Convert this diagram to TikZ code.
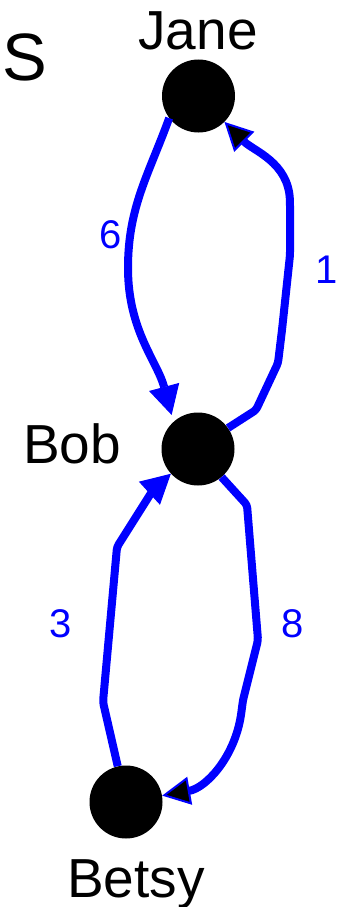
\documentclass[tikz,border=0pt]{standalone}
\usepackage{fontspec}
\setmainfont{Liberation Sans}
\usetikzlibrary{arrows.meta}
\begin{document}
\begin{tikzpicture}[x=1pt,y=1pt,
  vert/.style={circle,fill=black,minimum size=73pt,inner sep=0pt},
  vname/.style={font=\fontsize{55}{60}\selectfont,anchor=base,inner sep=0pt},
  wt/.style={font=\fontsize{40}{44}\selectfont,text=blue,anchor=base,inner sep=0pt},
  edge/.style={draw=blue,line width=8pt,line join=round},
  bluetip/.style={-{Triangle[length=29pt,width=31pt,line width=1pt]}},
  blacktip/.style={-{Triangle[length=28pt,width=28pt,line width=2pt,fill=black]}},
]
\useasboundingbox (0,0) rectangle (341,-907);
% vertices
\node[vert] (J) at (198.5,-96) {};
\node[vert] (B) at (198,-449) {};
\node[vert] (Y) at (126,-802) {};
% names
\node[vname] (jl) at (198,-50) {Jane};
\node[vname] (bl) at (72,-463) {Bob};
\node[vname] (yl) at (136,-897) {Betsy};
\node[font=\fontsize{67}{70}\selectfont,anchor=base,inner sep=0pt] (s) at (25,-81) {S};
% weights
\node[wt] (w6) at (111,-248) {6};
\node[wt] (w1) at (327,-283) {1};
\node[wt] (w3) at (61,-637) {3};
\node[wt] (w8) at (292.5,-637) {8};
% edges
\draw[edge,bluetip,shorten >=7pt] (J.217) to[out=250,in=90] (128,-268) to[out=270,in=105] (B.132);
\draw[edge,blacktip,rounded corners=3pt] (B.35) -- (256,-410) -- (278,-363) -- (282,-330) -- (290,-255) -- (290,-203) to[out=92,in=-45] (J);
\draw[edge,blacktip,rounded corners=3pt] (B.-50) -- (247,-505) -- (258,-640) -- (243,-700) -- (241,-715) to[out=-100,in=10] (Y);
\draw[edge,bluetip,rounded corners=3pt] (Y.103) -- (103,-702) -- (117,-547) -- (153,-490) -- (B);
\end{tikzpicture}
\end{document}
